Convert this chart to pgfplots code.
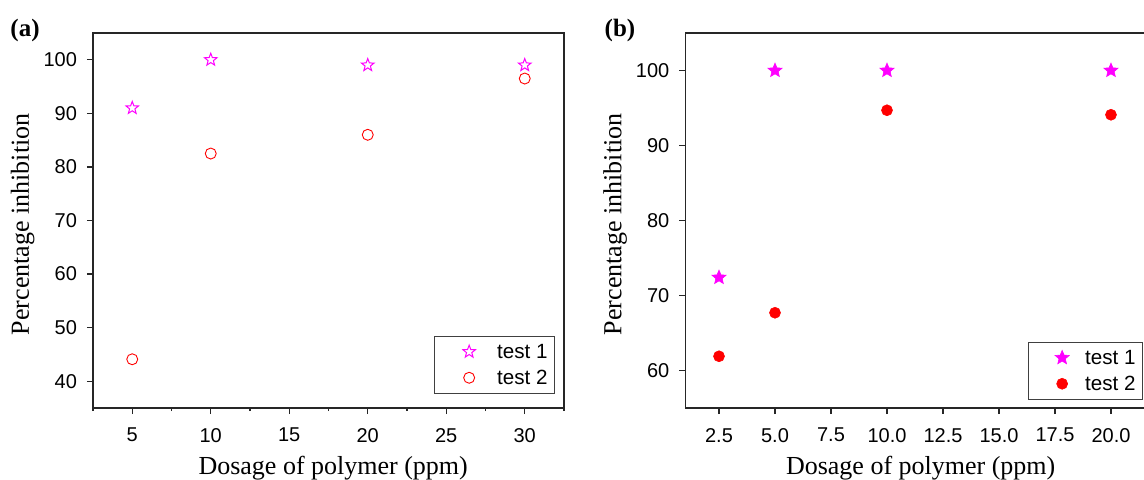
\documentclass[border=0pt]{standalone}
\usepackage{fontspec}
\setmainfont{Liberation Serif}
\newfontfamily\arial{Liberation Sans}
\usepackage{pgfplots}
\pgfplotsset{compat=1.18}

% five-pointed star marks, open and filled
\pgfdeclareplotmark{pentstar}{%
  \pgfpathmoveto{\pgfpointpolar{90}{\pgfplotmarksize}}%
  \pgfpathlineto{\pgfpointpolar{126}{0.42\pgfplotmarksize}}%
  \pgfpathlineto{\pgfpointpolar{162}{\pgfplotmarksize}}%
  \pgfpathlineto{\pgfpointpolar{198}{0.42\pgfplotmarksize}}%
  \pgfpathlineto{\pgfpointpolar{234}{\pgfplotmarksize}}%
  \pgfpathlineto{\pgfpointpolar{270}{0.42\pgfplotmarksize}}%
  \pgfpathlineto{\pgfpointpolar{306}{\pgfplotmarksize}}%
  \pgfpathlineto{\pgfpointpolar{342}{0.42\pgfplotmarksize}}%
  \pgfpathlineto{\pgfpointpolar{18}{\pgfplotmarksize}}%
  \pgfpathlineto{\pgfpointpolar{54}{0.42\pgfplotmarksize}}%
  \pgfpathclose
  \pgfusepathqstroke
}
\pgfdeclareplotmark{pentstar*}{%
  \pgfpathmoveto{\pgfpointpolar{90}{\pgfplotmarksize}}%
  \pgfpathlineto{\pgfpointpolar{126}{0.45\pgfplotmarksize}}%
  \pgfpathlineto{\pgfpointpolar{162}{\pgfplotmarksize}}%
  \pgfpathlineto{\pgfpointpolar{198}{0.45\pgfplotmarksize}}%
  \pgfpathlineto{\pgfpointpolar{234}{\pgfplotmarksize}}%
  \pgfpathlineto{\pgfpointpolar{270}{0.45\pgfplotmarksize}}%
  \pgfpathlineto{\pgfpointpolar{306}{\pgfplotmarksize}}%
  \pgfpathlineto{\pgfpointpolar{342}{0.45\pgfplotmarksize}}%
  \pgfpathlineto{\pgfpointpolar{18}{\pgfplotmarksize}}%
  \pgfpathlineto{\pgfpointpolar{54}{0.45\pgfplotmarksize}}%
  \pgfpathclose
  \pgfusepathqfillstroke
}

\definecolor{mag}{RGB}{255,0,255}
\definecolor{rd}{RGB}{255,0,0}

\newcommand\labelfont{\fontsize{13}{15}\selectfont}

\pgfplotsset{
  panel/.style={
    scale only axis,
    height=187.5pt,
    ymin=35, ymax=105,
    axis line style={line width=0.6pt, black!85},
    every tick/.style={line width=0.6pt, black!85},
    tick align=outside,
    tick pos=left,
    major tick length=3pt,
    minor tick length=1.5pt,
    only marks,
    tick label style={font=\arial\fontsize{10}{12}\selectfont},
    xticklabel style={yshift=-3.5pt},
    yticklabel style={xshift=-1.5pt},
    /pgf/number format/assume math mode=true,
    xlabel={Dosage of polymer (ppm)},
    ylabel={Percentage inhibition},
    every axis x label/.style={at={(axis description cs:0.51,0)}, anchor=base,
      yshift=-33.4pt, font=\labelfont},
    legend style={anchor=south east, draw=black!75, line width=0.5pt,
      inner xsep=0pt, inner ysep=1.25pt,
      font=\arial\fontsize{10.3}{12}\selectfont,
      nodes={inner xsep=3.5pt, inner ysep=2.3pt, text height=7.4pt, text depth=1pt},
      cells={anchor=west}},
  }
}

% panel (a)
\pgfplotstableread{
x y
5 91
10 100
20 99
30 99
}\atestone
\pgfplotstableread{
x y
5 44.1
10 82.5
20 86
30 96.5
}\atesttwo
% panel (b)
\pgfplotstableread{
x y
2.5 72.4
5 100
10 100
20 100
}\btestone
\pgfplotstableread{
x y
2.5 61.9
5 67.7
10 94.7
20 94.1
}\btesttwo

\begin{document}
\begin{tikzpicture}
\node[font=\bfseries\fontsize{12.5}{14}\selectfont] at (12.5pt,-15pt) {(a)};
\node[font=\bfseries\fontsize{12.5}{14}\selectfont] at (310pt,-15pt) {(b)};

\begin{axis}[panel,
  at={(46.5pt,-16.5pt)}, anchor=north west,
  width=235.5pt,
  xmin=2.5, xmax=32.5,
  xtick={5,10,...,30},
  minor xtick={2.5,7.5,...,32.5},
  ytick={40,50,...,100},
  every axis y label/.style={at={(axis description cs:-0.136,0.49)}, rotate=90,
    anchor=base, font=\labelfont},
  legend style={at={(0.981,0.038)}},
  legend image code/.code={\path[draw=none,fill=none] (0pt,0pt) -- (28pt,0pt);
    \draw[#1,only marks] plot coordinates {(17.5pt,0pt)};},
]
\addplot[mag, mark=pentstar, mark size=3.3pt, mark options={line width=0.5pt}] table {\atestone};
\addlegendentry{test 1}
\addplot[rd, mark=o, mark size=2.75pt, mark options={line width=0.45pt}] table {\atesttwo};
\addlegendentry{test 2}
\end{axis}

\begin{axis}[panel,
  at={(342.7pt,-16.5pt)}, anchor=north west,
  width=230.7pt,
  xmin=1, xmax=21.6,
  ymin=55, ymax=105,
  xtick={2.5,5,...,20},
  ytick={60,70,...,100},
  xticklabel style={/pgf/number format/fixed, /pgf/number format/fixed zerofill, /pgf/number format/precision=1},
  every axis y label/.style={at={(axis description cs:-0.1387,0.49)}, rotate=90,
    anchor=base, font=\labelfont},
  legend style={at={(0.9918,0.022)}},
  legend image code/.code={\path[draw=none,fill=none] (0pt,0pt) -- (25pt,0pt);
    \draw[#1,only marks] plot coordinates {(17pt,0pt)};},
]
\addplot[mag, fill=mag, mark=pentstar*, mark size=3.7pt, mark options={line width=0.3pt}] table {\btestone};
\addlegendentry{test 1}
\addplot[rd, fill=rd, mark=*, mark size=2.75pt, mark options={line width=0.3pt}] table {\btesttwo};
\addlegendentry{test 2}
\end{axis}

\pgfresetboundingbox
\path[use as bounding box] (0pt,0pt) rectangle (572pt,-239.5pt);
\end{tikzpicture}
\end{document}
